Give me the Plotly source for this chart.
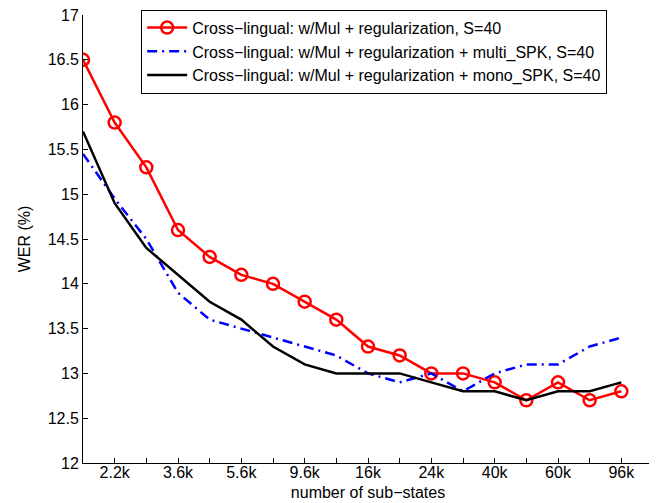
import plotly.graph_objects as go

positions = list(range(1, 19))
tick_labels = ["2.2k", "3.6k", "5.6k", "9.6k", "16k", "24k", "40k", "60k", "96k"]
tick_positions = [2, 4, 6, 8, 10, 12, 14, 16, 18]

wer_reg = [16.5, 15.8, 15.3, 14.6, 14.3, 14.1, 14.0, 13.8, 13.6, 13.3, 13.2, 13.0, 13.0, 12.9, 12.7, 12.9, 12.7, 12.8]
wer_multi = [15.45, 14.95, 14.5, 13.9, 13.6, 13.5, 13.4, 13.3, 13.2, 13.0, 12.9, 13.0, 12.8, 13.0, 13.1, 13.1, 13.3, 13.4]
wer_mono = [15.7, 14.9, 14.4, 14.1, 13.8, 13.6, 13.3, 13.1, 13.0, 13.0, 13.0, 12.9, 12.8, 12.8, 12.7, 12.8, 12.8, 12.9]

names = [
    "Cross\u2212lingual: w/Mul + regularization, S=40",
    "Cross\u2212lingual: w/Mul + regularization + multi_SPK, S=40",
    "Cross\u2212lingual: w/Mul + regularization + mono_SPK, S=40",
]

fig = go.Figure()
fig.add_trace(go.Scatter(
    x=positions, y=wer_reg, name=names[0], mode="lines+markers",
    line=dict(color="#ff0000", width=2.5),
    marker=dict(symbol="circle-open", size=12, color="#ff0000", line=dict(width=2.5, color="#ff0000")),
))
fig.add_trace(go.Scatter(
    x=positions, y=wer_multi, name=names[1], mode="lines",
    line=dict(color="#0000ff", width=2.5, dash="10px,5px,2px,5px"),
))
fig.add_trace(go.Scatter(
    x=positions, y=wer_mono, name=names[2], mode="lines",
    line=dict(color="#000000", width=2.5),
))

ticktext = []
for p in positions:
    if p in tick_positions:
        ticktext.append(tick_labels[tick_positions.index(p)])
    else:
        ticktext.append("")

yticks = [12, 12.5, 13, 13.5, 14, 14.5, 15, 15.5, 16, 16.5, 17]
yticktext = ["12", "12.5", "13", "13.5", "14", "14.5", "15", "15.5", "16", "16.5", "17"]

font_family = "Liberation Sans, Arial, Helvetica, sans-serif"

fig.update_layout(
    width=657, height=503,
    margin=dict(l=75, r=12, t=7, b=48, autoexpand=False),
    plot_bgcolor="white", paper_bgcolor="white",
    font=dict(family=font_family, size=16, color="black"),
    showlegend=True,
    legend=dict(
        x=0.102, y=1.012, xanchor="left", yanchor="top",
        bgcolor="white", bordercolor="black", borderwidth=1,
        font=dict(size=16, family=font_family, color="black"),
        tracegroupgap=0, itemwidth=40,
    ),
    xaxis=dict(
        range=[1, 19], tickmode="array", tickvals=positions, ticktext=ticktext,
        ticks="inside", ticklen=5, tickcolor="black", tickwidth=1,
        showline=True, linecolor="black", linewidth=1, showgrid=False, zeroline=False,
        title=dict(text="number of sub\u2212states", standoff=6, font=dict(size=16)),
        tickfont=dict(size=16), automargin=False, ticklabeloverflow="allow",
        ticklabelstandoff=-5,
    ),
    yaxis=dict(
        range=[12, 17], tickmode="array", tickvals=yticks, ticktext=yticktext,
        ticks="inside", ticklen=5, tickcolor="black", tickwidth=1,
        showline=True, linecolor="black", linewidth=1, showgrid=False, zeroline=False,
        title=dict(text="WER (%)", standoff=13, font=dict(size=16)),
        tickfont=dict(size=16), automargin=False, ticklabeloverflow="allow",
    ),
)

fig.write_html("out.html")
